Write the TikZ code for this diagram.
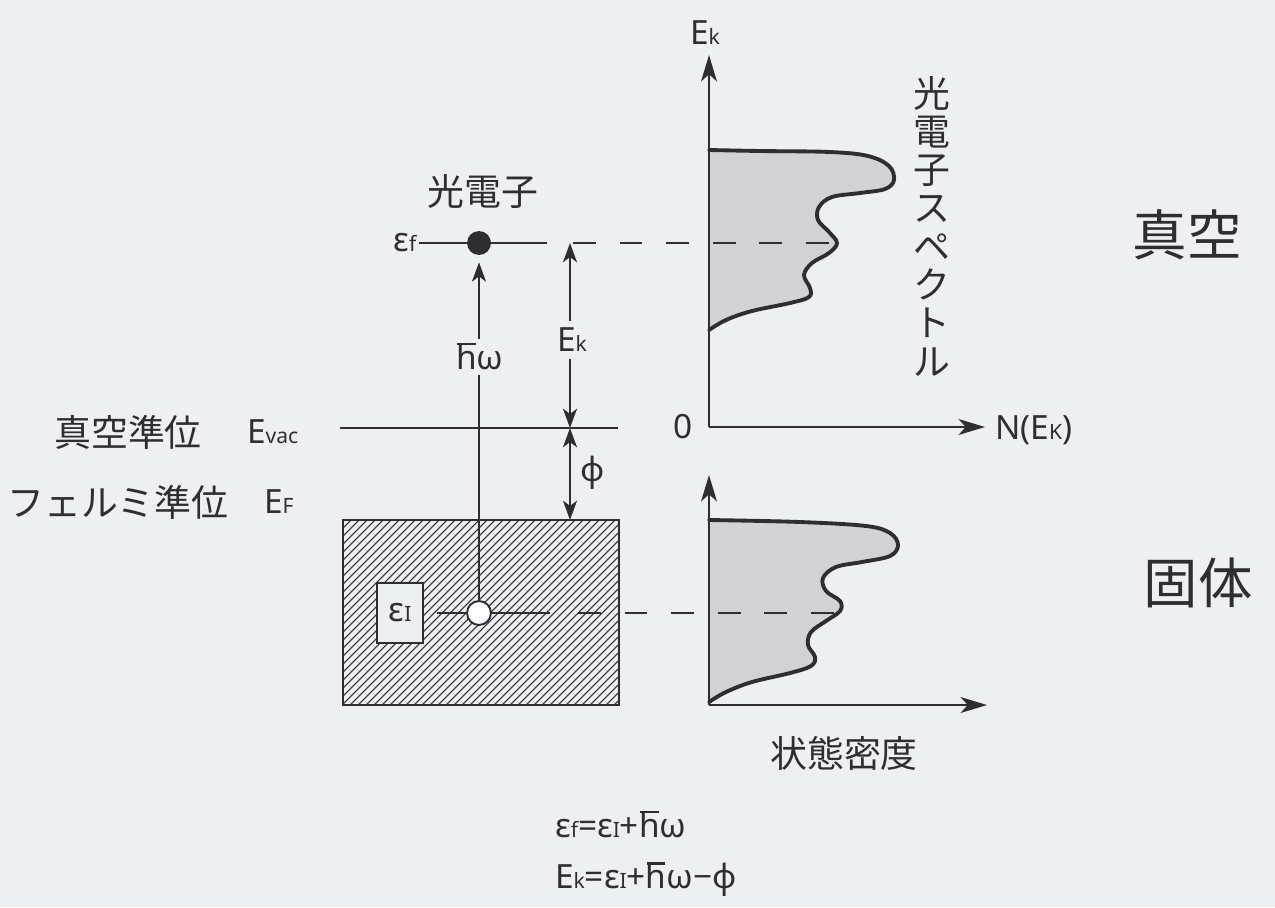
\documentclass[tikz,border=0pt]{standalone}
\usepackage{fontspec}
\setmainfont{Noto Sans}
\newfontfamily\jp{Noto Sans CJK JP}
\usetikzlibrary{arrows.meta}
\definecolor{bg}{RGB}{238,239,243}
\definecolor{ink}{RGB}{45,45,50}
\definecolor{stip}{RGB}{210,210,214}
\newcommand\hbr{\ooalign{h\cr\hidewidth\rule[0.72em]{0.55em}{0.07em}\hidewidth\cr}}
\newcommand\sbs[1]{{\fontsize{12}{12}\selectfont #1}}
\begin{document}
\begin{tikzpicture}[x=0.02cm,y=-0.02cm,
 ln/.style={draw=ink,line width=1.1pt},
 arr/.style={ln,-{Stealth[length=11pt,width=8pt,inset=3pt]}},
 darr/.style={ln,{Stealth[length=11pt,width=8pt,inset=3pt]}-{Stealth[length=11pt,width=8pt,inset=3pt]}},
 axis/.style={draw=ink,line width=1.3pt,-{Stealth[length=15pt,width=9pt,inset=4pt]}},
 spec/.style={draw=ink,line width=2.2pt,line join=round,line cap=round},
 dsh/.style={ln,dash pattern=on 13pt off 13.5pt},
 hatch/.style={draw=ink,line width=0.6pt},
 lbl/.style={text=ink,font=\fontsize{19}{21}\selectfont,inner sep=1pt},
 jlbl/.style={text=ink,font=\jp\fontsize{21}{23}\selectfont,inner sep=1pt},
 big/.style={text=ink,font=\jp\fontsize{31}{33}\selectfont,inner sep=1pt},
]
\useasboundingbox (0,0) rectangle (1275,907);
\fill[bg] (0,0) rectangle (1275,907);

% ---------- spectra fills (behind dashes) ----------
\fill[stip] plot[smooth,tension=0.6] coordinates {(709,150) (760,151) (830,152) (868,156) (889,166) (894,180) (885,189) (860,193) (832,197) (819,207) (818,220) (829,232) (837,243) (829,253) (812,263) (804,275) (810,288) (809,297) (790,303) (752,311) (726,320) (709,330)} -- cycle;
\fill[stip] plot[smooth,tension=0.6] coordinates {(709,520) (800,522) (866,526) (890,533) (898,545) (890,556) (862,562) (836,567) (823,578) (826,591) (840,601) (840,611) (826,621) (811,632) (808,645) (815,657) (811,666) (790,673) (752,682) (726,692) (709,702)} -- cycle;

% ---------- hatched solid ----------
\coordinate (boxtl) at (343,520);
\coordinate (boxbr) at (619,705);
\begin{scope}
 \clip (boxtl) rectangle (boxbr);
 \foreach \i in {0,...,60} \draw[hatch] ({150+8*\i},705) -- ++(190,-190);
\end{scope}
\draw[ln] (boxtl) rectangle (boxbr);
\node[draw=ink,line width=1.1pt,fill=bg,minimum width=46*0.5669pt,minimum height=60*0.5669pt,inner sep=0pt,lbl] (ei) at (400,613) {ε\sbs{I}};

% ---------- levels ----------
\node[lbl] (ef) at (405,243) {ε\sbs{f}};
\node[circle,fill=ink,minimum size=24*0.5669pt,inner sep=0pt] (fc) at (479,243) {};
\node[circle,draw=ink,line width=1.1pt,fill=white,minimum size=24*0.5669pt,inner sep=0pt] (hc) at (479,613) {};
\node[jlbl] (pe) at (483,192) {光電子};

\coordinate (ftopR) at (547,243);
\coordinate (fdash0) at (573,243);
\coordinate (fdash1) at (840,243);
\draw[ln] (ef.east) -- (fc);
\draw[ln] (fc) -- (ftopR);
\draw[dsh] (fdash0) -- (fdash1);

\coordinate (ibotL) at (437,613);
\coordinate (ibotR) at (550,613);
\coordinate (idash0) at (578,613);
\coordinate (idash1) at (835,613);
\draw[ln] (ibotL) -- (hc);
\draw[ln] (hc) -- (ibotR);
\draw[dsh] (idash0) -- (idash1);

% photon arrow
\draw[arr,shorten >=4pt] (hc) -- (fc);
\node[lbl,fill=bg,inner sep=3pt] (hw) at (480,357) {\hbr ω};

% vacuum level
\coordinate (vl) at (340,428);
\coordinate (vr) at (618,428);
\draw[ln] (vl) -- (vr);
\node[jlbl] (vacj) at (128,432) {真空準位};
\node[lbl,anchor=west] (evac) at (245,432) {E\sbs{vac}};
\node[jlbl] (ferj) at (118,502) {フェルミ準位};
\node[lbl,anchor=west] (eF) at (262,502) {E\sbs{F}};

% Ek and phi arrows
\coordinate (ekt) at (570,243);
\coordinate (ekb) at (570,428);
\coordinate (phb) at (570,520);
\draw[darr] (ekt) -- (ekb);
\node[lbl,fill=bg,inner sep=4pt] (ekl) at (572,340) {E\sbs{k}};
\draw[darr] (ekb) -- (phb);
\node[lbl] (phl) at (593,473) {ϕ};

% ---------- upper spectrum ----------
\draw[spec] plot[smooth,tension=0.6] coordinates {(709,150) (760,151) (830,152) (868,156) (889,166) (894,180) (885,189) (860,193) (832,197) (819,207) (818,220) (829,232) (837,243) (829,253) (812,263) (804,275) (810,288) (809,297) (790,303) (752,311) (726,320) (709,330)};
\coordinate (o1) at (709,427);
\coordinate (y1) at (709,55);
\coordinate (x1) at (985,427);
\draw[axis] (o1) -- (y1);
\draw[axis] (o1) -- (x1);
\node[lbl] (ekax) at (705,33) {E\sbs{k}};
\node[lbl] (zero) at (683,427) {0};
\node[lbl,anchor=west] (nek) at (993,430) {N(E\sbs{K})};
\node[text=ink,font=\jp\fontsize{21}{21.8}\selectfont,align=center,inner sep=0pt] (pes) at (932,226) {光\\電\\子\\ス\\ペ\\ク\\ト\\ル};

% ---------- lower spectrum ----------
\draw[spec] plot[smooth,tension=0.6] coordinates {(709,520) (800,522) (866,526) (890,533) (898,545) (890,556) (862,562) (836,567) (823,578) (826,591) (840,601) (840,611) (826,621) (811,632) (808,645) (815,657) (811,666) (790,673) (752,682) (726,692) (709,702)};
\coordinate (o2) at (709,705);
\coordinate (y2) at (709,475);
\coordinate (x2) at (987,705);
\draw[axis] (o2) -- (y2);
\draw[axis] (o2) -- (x2);
\node[jlbl] (dos) at (844,753) {状態密度};

% ---------- region labels ----------
\node[big] (vac) at (1187,235) {真空};
\node[big] (sol) at (1198,583) {固体};

% ---------- formulas ----------
\node[lbl,anchor=west] (f1) at (553,825) {ε\sbs{f}=ε\sbs{I}+\hbr ω};
\node[lbl,anchor=west] (f2) at (553,880) {E\sbs{k}=ε\sbs{I}+\hbr ω−ϕ};
\end{tikzpicture}
\end{document}
